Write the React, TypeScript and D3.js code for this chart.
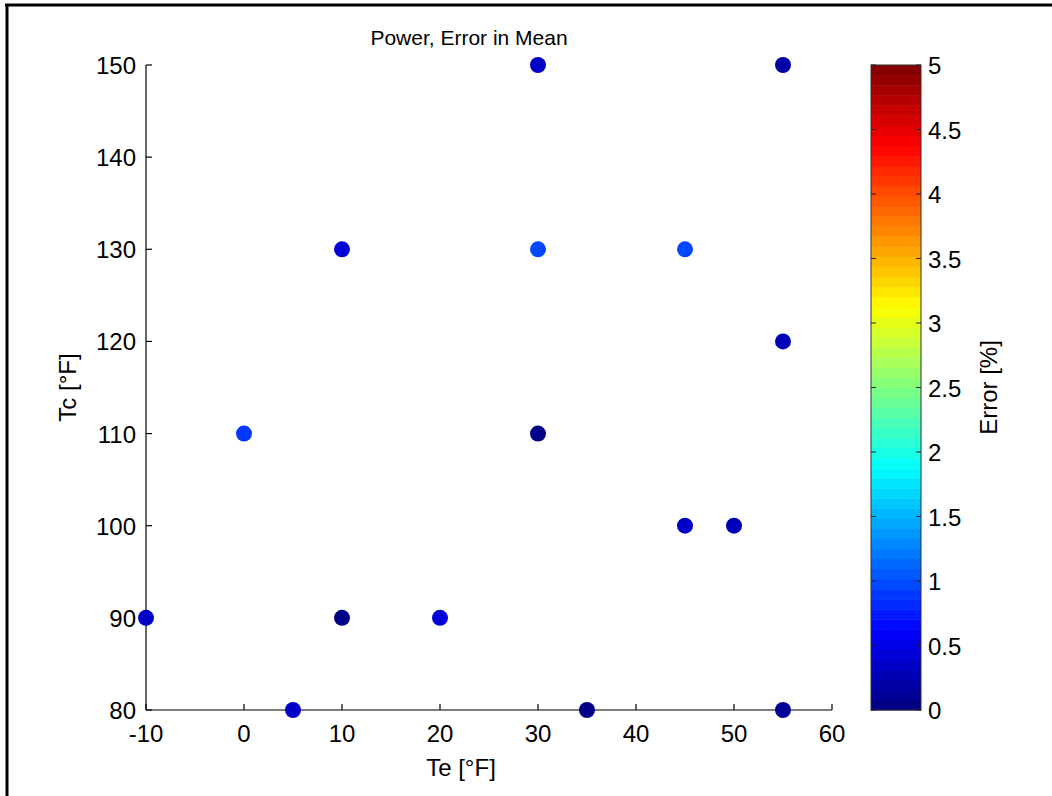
import React from "react";
import * as d3 from "d3";

const teValues = [30, 55, 10, 30, 45, 55, 0, 30, 45, 50, -10, 10, 20, 5, 35, 55];
const tcValues = [150, 150, 130, 130, 130, 120, 110, 110, 100, 100, 90, 90, 90, 80, 80, 80];
const errorValues = [0.37, 0.2, 0.44, 1.0, 0.95, 0.25, 0.87, 0.06, 0.37, 0.25, 0.35, 0.05, 0.4, 0.35, 0.06, 0.1];

const xTicks = [-10, 0, 10, 20, 30, 40, 50, 60];
const yTicks = [80, 90, 100, 110, 120, 130, 140, 150];
const cTicks = [0, 0.5, 1, 1.5, 2, 2.5, 3, 3.5, 4, 4.5, 5];

const FONT = "Liberation Sans, Arial, sans-serif";

function jet(t: number): string {
  // MATLAB jet with 64 levels
  const n = 64;
  const i = Math.min(n - 1, Math.max(0, Math.floor(t * n)));
  const x = (i + 0.5) / n;
  const r = Math.min(1, Math.max(0, 1.5 - Math.abs(4 * x - 3)));
  const g = Math.min(1, Math.max(0, 1.5 - Math.abs(4 * x - 2)));
  const b = Math.min(1, Math.max(0, 1.5 - Math.abs(4 * x - 1)));
  return d3.rgb(r * 255, g * 255, b * 255).formatHex();
}

export default function App() {
  const x = d3.scaleLinear().domain([-10, 60]).range([146, 832]);
  const y = d3.scaleLinear().domain([80, 150]).range([710, 65]);
  const c = d3.scaleLinear().domain([0, 5]).range([710, 65]);
  const cbX0 = 871;
  const cbX1 = 921;
  const bands = d3.range(64);
  const fs = 24;
  return (
    <svg width={1052} height={796} style={{ position: "absolute", left: 0, top: 0, background: "#fff" }}>
      <rect x={0} y={0} width={1052} height={796} fill="#fff" />
      <line x1={5} y1={5} x2={1052} y2={5} stroke="#000" strokeWidth={3} />
      <line x1={7} y1={4} x2={7} y2={796} stroke="#000" strokeWidth={3} />

      {/* axes */}
      <line x1={x(-10)} y1={y(80)} x2={x(60)} y2={y(80)} stroke="#000" strokeWidth={1.2} />
      <line x1={x(-10)} y1={y(80)} x2={x(-10)} y2={y(150)} stroke="#000" strokeWidth={1.2} />
      {xTicks.map((t) => (
        <g key={"x" + t}>
          <line x1={x(t)} y1={y(80)} x2={x(t)} y2={y(80) - 6} stroke="#000" strokeWidth={1.2} />
          <text x={x(t)} y={y(80) + 32} textAnchor="middle" fontFamily={FONT} fontSize={fs} fill="#000">
            {t}
          </text>
        </g>
      ))}
      {yTicks.map((t) => (
        <g key={"y" + t}>
          <line x1={x(-10)} y1={y(t)} x2={x(-10) + 6} y2={y(t)} stroke="#000" strokeWidth={1.2} />
          <text x={x(-10) - 10} y={y(t) + 9} textAnchor="end" fontFamily={FONT} fontSize={fs} fill="#000">
            {t}
          </text>
        </g>
      ))}

      <text x={469} y={45} textAnchor="middle" fontFamily={FONT} fontSize={21} fill="#000">
        Power, Error in Mean
      </text>
      <text x={461} y={776} textAnchor="middle" fontFamily={FONT} fontSize={fs} fill="#000">
        Te [°F]
      </text>
      <text
        transform={`translate(76,${(y(80) + y(150)) / 2}) rotate(-90)`}
        textAnchor="middle"
        fontFamily={FONT}
        fontSize={fs}
        fill="#000"
      >
        Tc [°F]
      </text>

      {/* points */}
      {teValues.map((te, i) => (
        <circle key={"p" + i} cx={x(te)} cy={y(tcValues[i])} r={8} fill={jet(errorValues[i] / 5)} />
      ))}

      {/* colorbar */}
      {bands.map((b) => (
        <rect
          key={"b" + b}
          x={cbX0}
          y={c(((b + 1) / 64) * 5)}
          width={cbX1 - cbX0}
          height={c((b / 64) * 5) - c(((b + 1) / 64) * 5) + 0.5}
          fill={jet((b + 0.5) / 64)}
        />
      ))}
      <rect x={cbX0} y={c(5)} width={cbX1 - cbX0} height={c(0) - c(5)} fill="none" stroke="#333" strokeWidth={1} />
      {cTicks.map((t) => (
        <g key={"c" + t}>
          <line x1={cbX0} y1={c(t)} x2={cbX0 + 5} y2={c(t)} stroke="#222" strokeWidth={1} />
          <line x1={cbX1} y1={c(t)} x2={cbX1 - 5} y2={c(t)} stroke="#222" strokeWidth={1} />
          <text x={cbX1 + 7} y={c(t) + 9} textAnchor="start" fontFamily={FONT} fontSize={fs} fill="#000">
            {t}
          </text>
        </g>
      ))}
      <text
        transform={`translate(997,${(c(0) + c(5)) / 2}) rotate(-90)`}
        textAnchor="middle"
        fontFamily={FONT}
        fontSize={fs}
        fill="#000"
      >
        Error [%]
      </text>
    </svg>
  );
}
